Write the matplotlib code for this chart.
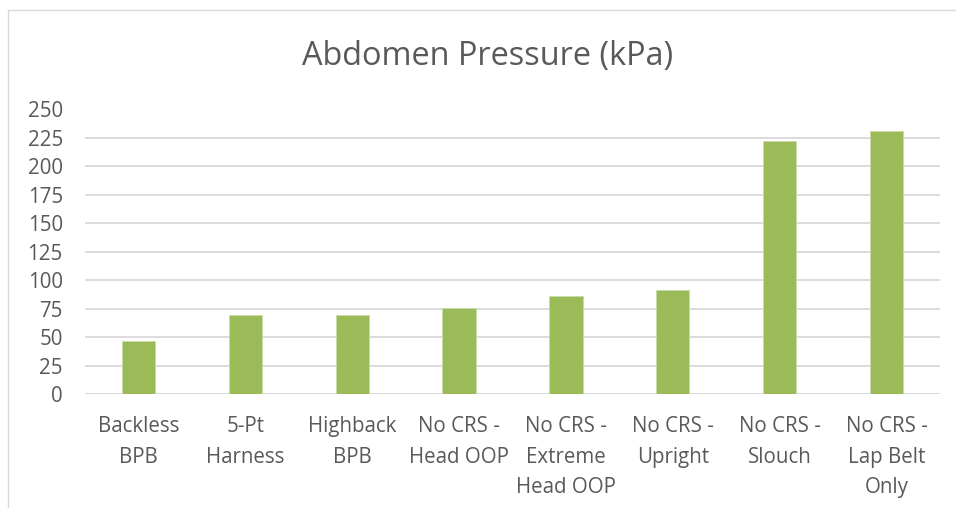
import matplotlib
matplotlib.use("Agg")
import matplotlib.pyplot as plt
from matplotlib.patches import Rectangle

categories = ["Backless\nBPB", "5-Pt\nHarness", "Highback\nBPB", "No CRS -\nHead OOP",
              "No CRS -\nExtreme\nHead OOP", "No CRS -\nUpright", "No CRS -\nSlouch",
              "No CRS -\nLap Belt\nOnly"]
values = [46.7, 69.3, 69.3, 75.4, 85.7, 91.6, 222.5, 231.0]
yticks = [0, 25, 50, 75, 100, 125, 150, 175, 200, 225, 250]

plt.rcParams['font.family'] = ['Open Sans', 'DejaVu Sans']
fig = plt.figure(figsize=(9.56, 5.08), dpi=100)
ax = fig.add_axes([85/956, 1 - 394/508, (940-85)/956, (394-109.5)/508])

x = list(range(len(categories)))
ax.bar(x, values, width=0.31, color="#9BBB59", edgecolor="#C9DCA8", linewidth=0.6, zorder=3)
ax.set_xlim(-0.5, len(categories) - 0.5)
ax.set_ylim(0, 250)
ax.set_yticks(yticks)
ax.yaxis.grid(True, color="#D9D9D9", linewidth=1.3, zorder=0)
for s in ax.spines.values():
    s.set_visible(False)
ax.tick_params(axis='both', length=0, colors="#595959", labelsize=14.8)
ax.tick_params(axis='y', pad=16)
ax.tick_params(axis='x', pad=16)
ax.set_xticks(x)
ax.set_xticklabels(categories, linespacing=1.6, va='top')
ax.axhline(0, color="#D9D9D9", linewidth=1.3, zorder=2)

fig.text(488/956, 1 - 56/508, "Abdomen Pressure (kPa)", ha='center', va='center',
         fontsize=23.4, color="#595959")

fig.patches.append(Rectangle((8/956, -0.01), 1.0, 1 - 10/508 + 0.01, transform=fig.transFigure,
                             fill=False, edgecolor="#D9D9D9", linewidth=1))
fig.savefig("out.png", dpi=100)
